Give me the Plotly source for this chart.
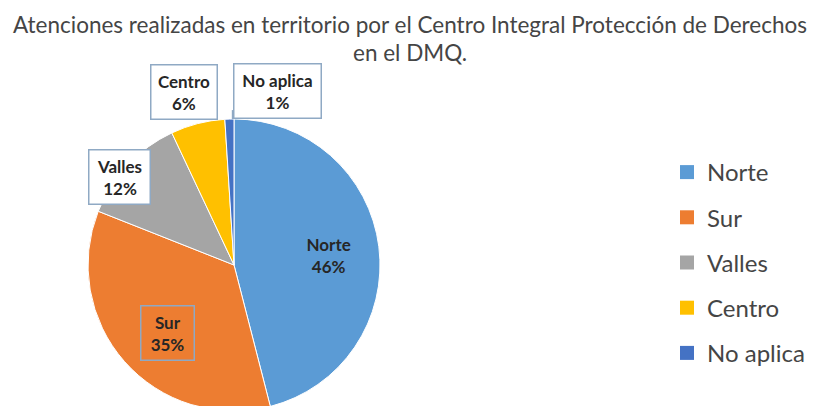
import math
import plotly.graph_objects as go

# ---- data ----
categories = ["Norte", "Sur", "Valles", "Centro", "No aplica"]
percentages = [46, 35, 12, 6, 1]
colors = ["#5B9BD5", "#ED7D31", "#A5A5A5", "#FFC000", "#4472C4"]
title_lines = ["Atenciones realizadas en territorio por el Centro Integral Protección de Derechos",
               "en el DMQ."]

# ---- layout constants (style, not data) ----
PAGE_W = 819
OFF = 8                      # default page margin of the html body
CX, CY, R = 234, 265, 146    # pie centre / radius in page pixels
W, H = PAGE_W - OFF, CY + R - OFF
label_radius = [0.65, 0.65, 0.99, 1.23, 1.23]
label_turn = [1.2, -4, -5.8, -1.7, 15.8]
label_boxed = [False, True, True, True, True]
label_bg = ["rgba(0,0,0,0)", "rgba(0,0,0,0)", "white", "white", "white"]
label_box_w = [None, 42, 50, 55, 76]
FONT = "Lato"
BOX = "#8FA9C4"


def px_x(x):
    return (x - OFF) / W


def px_y(y):
    return 1 - (y - OFF) / H


fig = go.Figure()
fig.add_trace(go.Pie(
    labels=categories, values=percentages, sort=False,
    direction="clockwise", rotation=0,
    marker=dict(colors=colors, line=dict(color="white", width=1)),
    textinfo="none", hoverinfo="label+percent", showlegend=False,
    domain=dict(x=[px_x(CX - R), px_x(CX + R)], y=[max(0, px_y(CY + R)), px_y(CY - R)]),
))

# legend entries (separate groups to control row spacing)
for cat, col in zip(categories, colors):
    fig.add_trace(go.Scatter(
        x=[None], y=[None], mode="markers", name=cat, legendgroup=cat,
        marker=dict(symbol="square", size=14, color=col), showlegend=True,
    ))

# data labels computed from slice angles
total = sum(percentages)
annotations = []
start = 0.0
for i, (cat, v) in enumerate(zip(categories, percentages)):
    mid = (start + v / 2) / total * 360
    start += v
    ang = math.radians(mid + label_turn[i])
    k = label_radius[i]
    px = CX + k * R * math.sin(ang)
    py = CY - k * R * math.cos(ang)
    pct = round(v / total * 100)
    ann = dict(
        x=px_x(px), y=px_y(py), xref="paper", yref="paper",
        xanchor="center", yanchor="middle",
        text=f"<b>{cat}<br>{pct}%</b>", showarrow=False,
        font=dict(family=FONT, size=17, color="#262626"),
        align="center",
        bordercolor=BOX if label_boxed[i] else "rgba(0,0,0,0)",
        borderwidth=1.5, borderpad=5, bgcolor=label_bg[i],
    )
    if label_box_w[i]:
        ann["width"] = label_box_w[i]
    annotations.append(ann)

# chart title (two centred lines)
for line, yc in zip(title_lines, [24, 52]):
    annotations.append(dict(
        x=px_x(410), y=px_y(yc), xref="paper", yref="paper",
        xanchor="center", yanchor="middle", showarrow=False, text=line,
        font=dict(family=FONT, size=22.5, color="#454545"),
    ))

# short leader line for the smallest slice
mid_last = (total - percentages[-1] / 2) / total * 360
a = math.radians(mid_last)
x0, y0 = CX + R * math.sin(a), CY - R * math.cos(a)
shapes = [dict(type="line", xref="paper", yref="paper",
               x0=px_x(x0 + 3), y0=px_y(y0), x1=px_x(x0 + 3), y1=px_y(y0 - 9),
               line=dict(color=BOX, width=1.2))]

fig.update_layout(
    width=W, height=H,
    margin=dict(l=0, r=0, t=0, b=0),
    paper_bgcolor="white", plot_bgcolor="white",
    xaxis=dict(visible=False), yaxis=dict(visible=False),
    legend=dict(x=px_x(667), y=px_y(150), xanchor="left", yanchor="top",
                font=dict(family=FONT, size=24, color="#454545"),
                tracegroupgap=11, bgcolor="rgba(0,0,0,0)"),
    annotations=annotations, shapes=shapes,
)

fig.write_html("out.html")
